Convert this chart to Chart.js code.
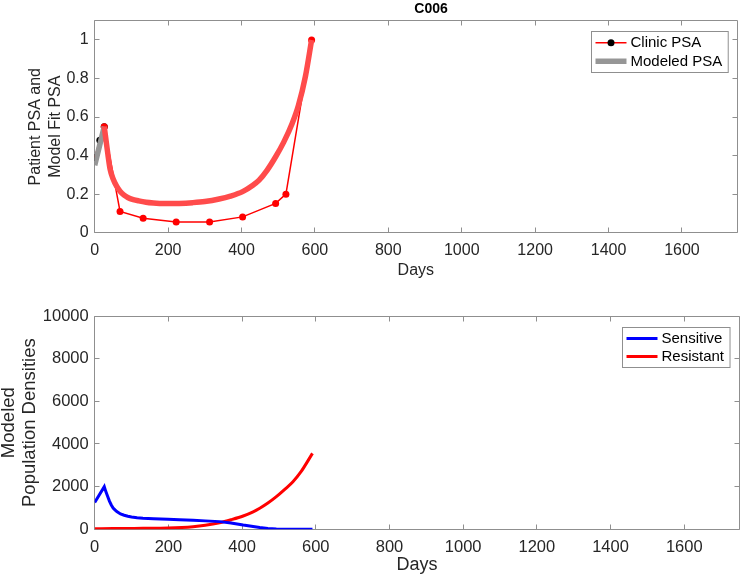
<!DOCTYPE html>
<html>
<head>
<meta charset="utf-8">
<script src="https://cdn.jsdelivr.net/npm/chart.js@4.4.0/dist/chart.umd.min.js"></script>
<style>
    body { margin: 0; background: #fff; }
    #wrap { position: relative; width: 741px; height: 578px; }
    canvas { position: absolute; left: 0; }
    #psaChart { top: 0; }
    #popChart { top: 290px; }
</style>
</head>
<body>
<div id="wrap">
    <canvas id="psaChart" width="741" height="290"></canvas>
    <canvas id="popChart" width="741" height="288"></canvas>
</div>
<script>
// ticks
const dayTicks = [0, 200, 400, 600, 800, 1000, 1200, 1400, 1600];
const psaTicks = [0, 0.2, 0.4, 0.6, 0.8, 1];
const popTicks = [0, 2000, 4000, 6000, 8000, 10000];

// clinic PSA (first part has black markers)
const clinicPreDays = [0, 14, 26];
const clinicPrePsa = [0.39, 0.48, 0.55];
const clinicDays = [26, 69, 132, 222, 313, 403, 493, 521, 591];
const clinicPsa = [0.55, 0.11, 0.075, 0.055, 0.055, 0.082, 0.152, 0.2, 1.0];

// modeled PSA
const modelPreDays = [0, 13, 26];
const modelPrePsa = [0.35, 0.45, 0.55];
const modelDays = [26, 35, 42, 50, 60, 69, 80, 90, 105, 120, 140, 160, 177, 200, 230, 267, 300, 339, 370, 403, 430, 448, 470, 493, 515, 538, 555, 574, 591];
const modelPsa = [0.55, 0.42, 0.33, 0.28, 0.24, 0.215, 0.195, 0.183, 0.172, 0.165, 0.158, 0.154, 0.152, 0.151, 0.152, 0.156, 0.162, 0.175, 0.19, 0.213, 0.245, 0.273, 0.325, 0.394, 0.47, 0.567, 0.66, 0.81, 1.0];

// population densities
const sensDays = [0, 26, 30, 35, 40, 45, 50, 55, 60, 70, 80, 90, 100, 115, 131, 160, 199, 230, 267, 300, 339, 370, 403, 430, 448, 470, 493, 520, 550, 591];
const sensVals = [1260, 2000, 1780, 1550, 1320, 1140, 1000, 910, 830, 720, 660, 610, 575, 540, 515, 490, 470, 445, 420, 395, 360, 300, 200, 130, 80, 40, 15, 5, 2, 0];
const resDays = [0, 50, 100, 131, 199, 267, 300, 339, 370, 403, 430, 448, 470, 493, 515, 538, 560, 591];
const resVals = [30, 33, 40, 45, 62, 125, 190, 310, 450, 625, 820, 985, 1230, 1530, 1860, 2230, 2700, 3560];

const FONT = "'Liberation Sans', Arial, Helvetica, sans-serif";
const TEXT = '#262626';
const AXIS = '#8f8f8f';

Chart.defaults.font.family = FONT;
Chart.defaults.color = TEXT;

const pts = (xs, ys) => xs.map((x, i) => ({ x: x, y: ys[i] }));

// box with inward ticks on all four sides
const axisBox = {
    id: 'axisBox',
    beforeDatasetsDraw(chart) {
        const { ctx, chartArea: a, scales } = chart;
        const L = Math.floor(a.left) + 0.5, R = Math.floor(a.right) + 0.5;
        const T = Math.floor(a.top) + 0.5, B = Math.floor(a.bottom) + 0.5;
        ctx.save();
        ctx.strokeStyle = AXIS;
        ctx.lineWidth = 1;
        ctx.beginPath();
        ctx.rect(L, T, R - L, B - T);
        scales.x.ticks.forEach(t => {
            const px = Math.floor(scales.x.getPixelForValue(t.value)) + 0.5;
            ctx.moveTo(px, B); ctx.lineTo(px, B - 5);
            ctx.moveTo(px, T); ctx.lineTo(px, T + 5);
        });
        scales.y.ticks.forEach(t => {
            const py = Math.floor(scales.y.getPixelForValue(t.value)) + 0.5;
            ctx.moveTo(L, py); ctx.lineTo(L + 5, py);
            ctx.moveTo(R, py); ctx.lineTo(R - 5, py);
        });
        ctx.stroke();
        ctx.restore();
    }
};

// matlab-like legend in the upper right corner
const boxLegend = {
    id: 'boxLegend',
    afterDraw(chart, args, opts) {
        const { ctx, chartArea: a } = chart;
        const items = chart.data.datasets.filter(d => d.inLegend);
        ctx.save();
        ctx.font = opts.fontSize + 'px ' + FONT;
        const textW = Math.max(...items.map(d => ctx.measureText(d.label).width));
        const w = 4 + 31 + 4 + textW + 6;
        const h = opts.rowGap * items.length + 4;
        const x0 = Math.floor(a.right - 9 - w) + 0.5;
        const y0 = Math.floor(a.top + 11) + 0.5;
        ctx.fillStyle = '#fff';
        ctx.fillRect(x0, y0, w, h);
        ctx.strokeStyle = AXIS;
        ctx.lineWidth = 1;
        ctx.strokeRect(x0, y0, w, h);
        items.forEach((d, i) => {
            const cy = y0 + 2 + opts.rowGap * (i + 0.5);
            ctx.strokeStyle = d.borderColor;
            ctx.lineWidth = d.borderWidth;
            ctx.beginPath();
            ctx.moveTo(x0 + 4, cy);
            ctx.lineTo(x0 + 35, cy);
            ctx.stroke();
            if (d.legendMarker) {
                ctx.fillStyle = d.pointBackgroundColor;
                ctx.beginPath();
                ctx.arc(x0 + 19.5, cy, 3.5, 0, Math.PI * 2);
                ctx.fill();
            }
            ctx.fillStyle = '#000';
            ctx.textBaseline = 'middle';
            ctx.textAlign = 'left';
            ctx.fillText(d.label, x0 + 39, cy + 0.5);
        });
        ctx.restore();
    }
};

const figTitle = {
    id: 'figTitle',
    afterDraw(chart, args, opts) {
        if (!opts.text) return;
        const ctx = chart.ctx;
        ctx.save();
        ctx.font = 'bold 14px ' + FONT;
        ctx.fillStyle = '#000';
        ctx.textAlign = 'center';
        ctx.textBaseline = 'middle';
        ctx.fillText(opts.text, opts.x, opts.y);
        ctx.restore();
    }
};

function xScale(height, tickSize, tickPad, titleSize, titlePad) {
    return {
        type: 'linear',
        min: 0,
        max: 1750,
        grid: { display: false, drawTicks: false },
        border: { display: false },
        afterBuildTicks: s => { s.ticks = dayTicks.map(v => ({ value: v })); },
        afterFit: s => { s.height = height; },
        ticks: { color: TEXT, font: { size: tickSize }, padding: tickPad, maxRotation: 0, autoSkip: false, callback: v => String(v) },
        title: { display: true, text: 'Days', color: TEXT, font: { size: titleSize }, padding: { top: 0, bottom: titlePad } }
    };
}

function yScale(max, ticks, fmt, tickSize, title, titleSize, lineHeight, titlePad) {
    return {
        type: 'linear',
        min: 0,
        max: max,
        grid: { display: false, drawTicks: false },
        border: { display: false },
        afterBuildTicks: s => { s.ticks = ticks.map(v => ({ value: v })); },
        afterFit: s => { s.width = 94.7; },
        ticks: { color: TEXT, font: { size: tickSize }, padding: 6, callback: fmt, autoSkip: false },
        title: { display: true, text: title, color: TEXT, font: { size: titleSize, lineHeight: lineHeight }, padding: { top: titlePad, bottom: 0 } }
    };
}

new Chart(document.getElementById('psaChart'), {
    type: 'scatter',
    data: {
        datasets: [
            {
                label: 'Modeled PSA',
                data: pts(modelDays, modelPsa),
                showLine: true,
                cubicInterpolationMode: 'monotone',
                borderColor: 'rgb(255, 75, 75)',
                borderWidth: 5.5,
                pointRadius: 0,
                order: 0
            },
            {
                label: 'Clinic PSA',
                inLegend: true,
                legendMarker: true,
                data: pts(clinicPreDays, clinicPrePsa),
                showLine: true,
                borderColor: '#ff0000',
                borderWidth: 1.5,
                pointRadius: 3.5,
                pointBorderWidth: 0,
                pointBackgroundColor: '#000',
                order: 3
            },
            {
                label: 'Modeled PSA',
                inLegend: true,
                data: pts(modelPreDays, modelPrePsa),
                showLine: true,
                borderColor: 'rgb(150, 150, 150)',
                borderWidth: 5.5,
                pointRadius: 0,
                order: 1
            },
            {
                label: 'Clinic PSA',
                data: pts(clinicDays, clinicPsa),
                showLine: true,
                borderColor: '#ff0000',
                borderWidth: 1.5,
                pointRadius: 3.5,
                pointBorderWidth: 0,
                pointBackgroundColor: '#ff0000',
                order: 2
            }
        ]
    },
    options: {
        responsive: false,
        animation: false,
        devicePixelRatio: 1,
        layout: { padding: { top: 20.7, right: 1.5, left: 0, bottom: 0 } },
        scales: {
            x: xScale(57.3, 16, 8, 16, 10),
            y: yScale(1.1, psaTicks, v => String(+v.toFixed(1)), 16, ['Patient PSA and', 'Model Fit PSA'], 16, 1.2, 26.4)
        },
        plugins: {
            legend: { display: false },
            tooltip: { enabled: false },
            boxLegend: { fontSize: 15, rowGap: 18.5 },
            figTitle: { text: 'C006', x: 431, y: 9 }
        }
    },
    plugins: [axisBox, boxLegend, figTitle]
});

new Chart(document.getElementById('popChart'), {
    type: 'scatter',
    data: {
        datasets: [
            {
                label: 'Sensitive',
                inLegend: true,
                data: pts(sensDays, sensVals),
                showLine: true,
                borderColor: '#0000ff',
                borderWidth: 3,
                pointRadius: 0
            },
            {
                label: 'Resistant',
                inLegend: true,
                data: pts(resDays, resVals),
                showLine: true,
                cubicInterpolationMode: 'monotone',
                borderColor: '#ff0000',
                borderWidth: 3,
                pointRadius: 0
            }
        ]
    },
    options: {
        responsive: false,
        animation: false,
        devicePixelRatio: 1,
        layout: { padding: { top: 26, right: 1.5, left: 0, bottom: 0 } },
        scales: {
            x: xScale(48.7, 16.5, 8, 18, 1.8),
            y: yScale(10000, popTicks, v => String(v), 16.5, ['Modeled', 'Population Densities'], 18.5, 1.17, -2.3)
        },
        plugins: {
            legend: { display: false },
            tooltip: { enabled: false },
            boxLegend: { fontSize: 15, rowGap: 18 },
            figTitle: { text: '' }
        }
    },
    plugins: [axisBox, boxLegend, figTitle]
});
</script>
</body>
</html>
